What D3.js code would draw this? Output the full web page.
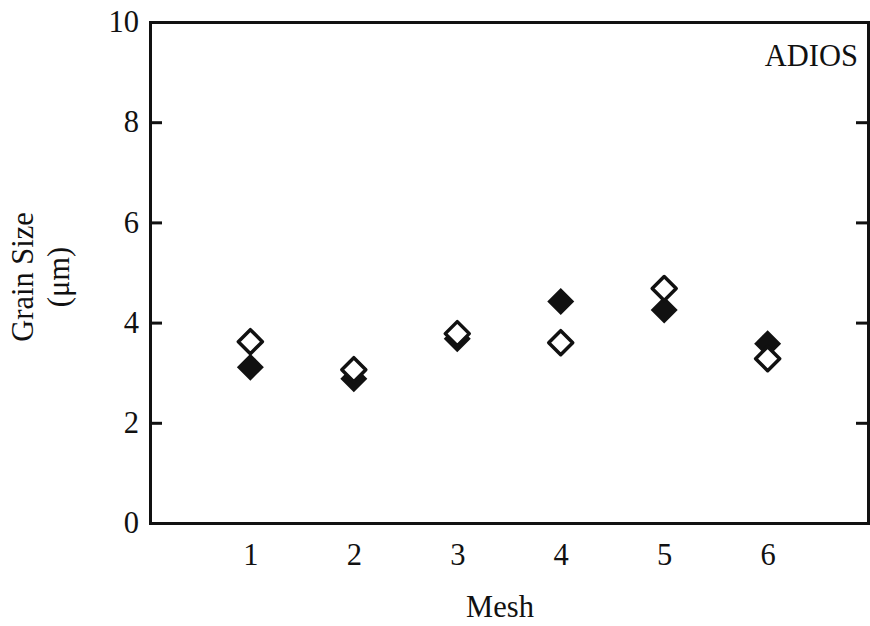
<!DOCTYPE html>
<html>
<head>
<meta charset="utf-8">
<script src="https://cdn.jsdelivr.net/npm/d3@7/dist/d3.min.js"></script>
<style>
  html, body { margin: 0; padding: 0; background: #fff; }
  svg { display: block; }
  text { font-family: "Liberation Serif", "Times New Roman", serif; fill: #111; }
</style>
</head>
<body>
<svg id="chart" width="870" height="626"></svg>
<script>
// Grain size per mesh, two series (filled and open diamonds)
const meshes = [1, 2, 3, 4, 5, 6];
const filledValues = [3.11, 2.88, 3.68, 4.42, 4.25, 3.58];
const openValues = [3.62, 3.06, 3.78, 3.60, 4.68, 3.28];
const yTicks = [0, 2, 4, 6, 8, 10];
const xTicks = [1, 2, 3, 4, 5, 6];
const panelLabel = "ADIOS";
const xTitle = "Mesh";
const yTitleLines = ["Grain Size", "(\u03BCm)"];

const svg = d3.select("#chart");
const plotLeft = 150, plotRight = 868, plotTop = 22, plotBottom = 523;

const x = d3.scaleLinear().domain([0.03, 6.97]).range([plotLeft, plotRight]);
const y = d3.scaleLinear().domain([0, 10]).range([plotBottom, plotTop]);

const fontSize = 30.5;
const ink = "#111";

// Left axis: inward ticks with labels
const yAxisL = svg.append("g")
  .attr("transform", `translate(${plotLeft},0)`)
  .call(d3.axisLeft(y).tickValues(yTicks).tickFormat(d3.format("d"))
    .tickSizeInner(-12).tickSizeOuter(0).tickPadding(11));

// Right axis: inward ticks, no labels
const yAxisR = svg.append("g")
  .attr("transform", `translate(${plotRight},0)`)
  .call(d3.axisRight(y).tickValues(yTicks).tickSizeInner(-12).tickSizeOuter(0).tickFormat(""));

// Bottom axis: labels only
const xAxis = svg.append("g")
  .attr("transform", `translate(0,${plotBottom})`)
  .call(d3.axisBottom(x).tickValues(xTicks).tickFormat(d3.format("d"))
    .tickSize(0).tickPadding(20));

// Top line
const xAxisTop = svg.append("g")
  .attr("transform", `translate(0,${plotTop})`)
  .call(d3.axisTop(x).tickValues([]).tickSizeOuter(0));

[yAxisL, yAxisR, xAxis, xAxisTop].forEach(g => {
  g.selectAll(".domain").attr("stroke", ink).attr("stroke-width", 3).attr("stroke-linecap", "square");
  g.selectAll(".tick line").attr("stroke", ink).attr("stroke-width", 3);
  g.selectAll(".tick text").attr("font-size", fontSize).attr("fill", ink)
    .attr("font-family", "Liberation Serif, serif");
});

// Diamond marker paths
const r = 13.5;
const diamond = `M0,${-r}L${r},0L0,${r}L${-r},0Z`;
const ro = 12;
const diamondOpen = `M0,${-ro}L${ro},0L0,${ro}L${-ro},0Z`;

svg.append("g").selectAll("path")
  .data(meshes.map((m, i) => ({ m, v: filledValues[i] })))
  .join("path")
  .attr("d", diamond)
  .attr("transform", d => `translate(${x(d.m)},${y(d.v)})`)
  .attr("fill", ink);

svg.append("g").selectAll("path")
  .data(meshes.map((m, i) => ({ m, v: openValues[i] })))
  .join("path")
  .attr("d", diamondOpen)
  .attr("transform", d => `translate(${x(d.m)},${y(d.v)})`)
  .attr("fill", "#fff")
  .attr("stroke", ink)
  .attr("stroke-width", 3.5)
  .attr("stroke-linejoin", "round");

// Panel label
svg.append("text")
  .attr("x", 858).attr("y", 66)
  .attr("text-anchor", "end")
  .attr("font-size", fontSize)
  .text(panelLabel);

// X title
svg.append("text")
  .attr("x", 500).attr("y", 617)
  .attr("text-anchor", "middle")
  .attr("font-size", fontSize)
  .text(xTitle);

// Y title (two lines, rotated)
const yt = svg.append("text")
  .attr("transform", "translate(0,277) rotate(-90)")
  .attr("text-anchor", "middle")
  .attr("font-size", fontSize);
yTitleLines.forEach((t, i) => {
  yt.append("tspan").attr("x", 0).attr("y", 33 + i * 36).text(t);
});
</script>
</body>
</html>
